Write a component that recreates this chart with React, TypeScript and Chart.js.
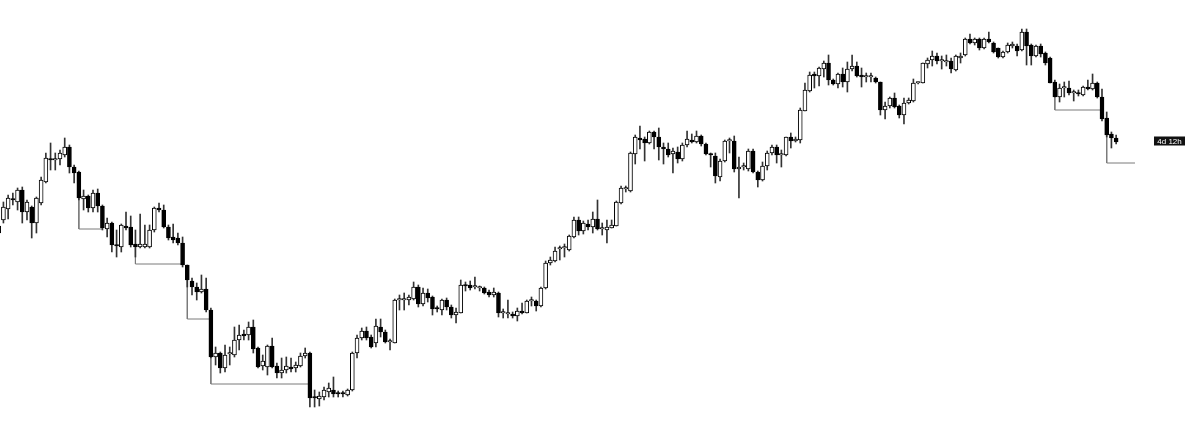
import { useEffect, useRef } from 'react';
import { Chart, registerables } from 'chart.js';

Chart.register(...registerables);

// OHLC values (one entry per candle, oldest first)
const opens = [
  267, 280, 291, 301, 298, 310, 288, 293, 277, 297, 318, 341, 340, 341, 345, 353, 333, 328, 301, 304,
  292, 307, 294, 271, 277, 255, 253, 274, 273, 256, 253, 253, 253, 270, 292, 290, 273, 263, 262, 257,
  235, 219, 213, 208, 211, 190, 143, 147, 132, 146, 145, 160, 166, 165, 173, 152, 134, 133, 154, 134,
  127, 130, 133, 132, 134, 144, 147, 103, 101, 103, 108, 110, 107, 107, 105, 110, 147, 162, 169, 163,
  157, 173, 168, 158, 157, 200, 200, 200, 201, 213, 196, 207, 203, 192, 190, 200, 193, 185, 187, 215,
  215, 213, 212, 212, 208, 205, 207, 187, 186, 186, 184, 189, 187, 199, 199, 194, 212, 237, 239, 251,
  252, 250, 263, 280, 269, 276, 273, 281, 271, 270, 272, 274, 297, 311, 309, 346, 362, 361, 357, 368,
  363, 353, 351, 346, 348, 341, 355, 360, 358, 364, 356, 346, 344, 323, 339, 359, 359, 331, 333, 331,
  349, 328, 320, 334, 347, 353, 345, 345, 363, 359, 360, 389, 409, 426, 424, 431, 437, 420, 416, 426,
  418, 431, 434, 425, 423, 423, 422, 418, 390, 394, 402, 394, 385, 397, 399, 417, 417, 436, 440, 444,
  439, 438, 439, 430, 442, 445, 461, 457, 461, 452, 461, 457, 452, 443, 448, 454, 454, 450, 468, 455,
  444, 454, 447, 442, 418, 403, 412, 412, 407, 407, 405, 413, 411, 417, 403, 382, 366, 362,
];

const highs = [
  276, 298, 305, 307, 312, 313, 300, 294, 303, 323, 347, 357, 347, 350, 362, 355, 335, 329, 310, 305,
  310, 311, 295, 282, 278, 270, 276, 288, 284, 270, 286, 275, 275, 293, 297, 295, 275, 276, 267, 263,
  235, 222, 217, 225, 222, 192, 153, 148, 155, 153, 173, 175, 170, 178, 180, 153, 145, 155, 162, 137,
  142, 143, 142, 138, 147, 152, 148, 110, 108, 113, 117, 123, 109, 109, 111, 148, 165, 172, 173, 165,
  181, 181, 170, 161, 201, 205, 207, 205, 218, 215, 212, 211, 204, 194, 201, 202, 195, 192, 220, 218,
  219, 223, 214, 213, 210, 212, 208, 191, 200, 188, 192, 197, 200, 203, 200, 213, 239, 243, 253, 254,
  256, 265, 283, 283, 279, 280, 288, 300, 277, 280, 280, 299, 314, 314, 348, 365, 374, 363, 369, 369,
  372, 357, 357, 352, 353, 357, 369, 366, 369, 365, 357, 347, 347, 341, 360, 362, 364, 343, 337, 351,
  351, 329, 338, 349, 355, 355, 350, 363, 367, 363, 392, 417, 428, 428, 433, 439, 445, 421, 427, 432,
  438, 445, 438, 432, 427, 427, 423, 418, 398, 403, 407, 395, 402, 402, 421, 418, 437, 442, 449, 447,
  444, 445, 442, 445, 447, 462, 466, 462, 462, 462, 468, 458, 452, 449, 457, 458, 456, 471, 471, 456,
  455, 456, 448, 443, 420, 416, 418, 419, 410, 410, 414, 420, 426, 418, 411, 388, 368, 365,
];

const lows = [
  263, 277, 281, 295, 290, 277, 280, 262, 267, 295, 317, 330, 330, 335, 343, 327, 317, 300, 290, 288,
  288, 288, 270, 263, 248, 243, 248, 270, 253, 243, 252, 252, 252, 268, 288, 272, 260, 257, 255, 233,
  213, 205, 200, 207, 188, 142, 135, 127, 128, 135, 143, 150, 160, 160, 147, 132, 130, 125, 132, 122,
  122, 127, 128, 128, 133, 142, 93, 93, 94, 100, 103, 103, 103, 103, 104, 109, 142, 160, 160, 152,
  153, 163, 157, 150, 157, 190, 190, 195, 200, 193, 194, 198, 185, 188, 185, 190, 182, 177, 187, 209,
  210, 211, 209, 206, 203, 203, 183, 182, 182, 182, 179, 186, 187, 194, 189, 193, 211, 235, 238, 240,
  243, 249, 262, 265, 266, 270, 267, 270, 265, 257, 272, 274, 296, 308, 308, 336, 351, 339, 356, 351,
  340, 336, 343, 327, 337, 339, 353, 357, 357, 354, 345, 333, 317, 319, 338, 347, 328, 302, 330, 329,
  327, 313, 319, 330, 345, 337, 333, 344, 352, 358, 357, 389, 408, 412, 414, 423, 415, 415, 412, 413,
  408, 429, 423, 413, 418, 418, 417, 385, 381, 392, 392, 382, 376, 396, 398, 416, 417, 432, 434, 436,
  431, 434, 427, 429, 437, 444, 456, 455, 450, 451, 457, 447, 442, 442, 447, 452, 444, 449, 435, 435,
  443, 443, 435, 417, 403, 398, 403, 405, 399, 404, 404, 410, 410, 402, 379, 363, 352, 356,
];

const closes = [
  274, 293, 302, 300, 310, 288, 298, 277, 302, 320, 342, 340, 341, 347, 353, 333, 327, 302, 304, 292,
  307, 294, 272, 277, 255, 254, 275, 272, 255, 253, 256, 256, 270, 292, 290, 273, 262, 260, 257, 235,
  220, 213, 208, 211, 190, 143, 147, 132, 145, 146, 160, 165, 164, 173, 151, 133, 139, 154, 133, 127,
  130, 134, 131, 135, 144, 147, 102, 102, 104, 110, 112, 106, 106, 106, 110, 147, 162, 169, 162, 153,
  174, 168, 158, 158, 200, 200, 200, 203, 213, 196, 207, 202, 191, 191, 200, 193, 185, 188, 215, 214,
  212, 213, 212, 207, 205, 208, 187, 187, 186, 184, 189, 187, 199, 199, 194, 212, 237, 240, 249, 251,
  252, 264, 280, 269, 277, 273, 281, 271, 271, 273, 275, 298, 312, 311, 347, 363, 360, 357, 368, 363,
  353, 351, 345, 349, 341, 355, 361, 358, 364, 356, 346, 345, 324, 339, 359, 359, 331, 333, 333, 349,
  328, 320, 334, 347, 353, 345, 345, 363, 359, 361, 390, 410, 425, 424, 432, 437, 420, 416, 426, 418,
  431, 434, 424, 423, 423, 423, 418, 390, 394, 402, 393, 385, 397, 400, 417, 417, 437, 440, 444, 439,
  439, 438, 431, 444, 444, 461, 457, 461, 452, 461, 458, 448, 443, 448, 455, 456, 449, 468, 454, 444,
  454, 446, 437, 417, 403, 412, 412, 407, 407, 406, 413, 411, 417, 403, 381, 365, 362, 358,
];

// Drop markers: [candle index, value] corners of each step
const dropSegments: number[][][] = [
  [[17, 302], [17, 271], [22, 271]],
  [[29, 253], [29, 236], [39, 236]],
  [[40, 220], [40, 181], [45, 181], [45, 116], [66, 116]],
  [[224, 403], [224, 390], [234, 390]],
  [[235, 365], [235, 337], [241, 337]],
];

const lastLabel = '4d 12h';

const lastPriceLabel = {
  id: 'lastPriceLabel',
  afterDraw(chart: Chart) {
    const { ctx } = chart;
    const y = chart.scales.y.getPixelForValue(closes[closes.length - 1]) - 1;
    ctx.save();
    ctx.fillStyle = '#111';
    ctx.fillRect(1154, y - 4.5, 31, 9);
    ctx.fillStyle = '#fff';
    ctx.font = '8px "Liberation Sans", Arial, sans-serif';
    ctx.textAlign = 'center';
    ctx.textBaseline = 'middle';
    ctx.fillText(lastLabel, 1169.5, y + 0.5);
    ctx.restore();
  },
};

export default function App() {
  const chartRef = useRef<HTMLCanvasElement>(null);
  const chartInstance = useRef<Chart | null>(null);

  useEffect(() => {
    if (!chartRef.current) return;
    const ctx = chartRef.current.getContext('2d');
    if (!ctx) return;

    if (chartInstance.current) {
      chartInstance.current.destroy();
    }

    const up = closes.map((c, i) => c >= opens[i]);

    const bodies = opens.map((o, i) => ({ x: i, y: [o, closes[i]] }));
    const wicks = opens.map((_, i) => ({ x: i, y: [lows[i], highs[i]] }));

    const lineSets = dropSegments.map((seg) => ({
      type: 'line' as const,
      data: seg.map(([x, y]) => ({ x, y })),
      borderColor: '#7a7a7a',
      borderWidth: 1,
      pointRadius: 0,
      tension: 0,
      fill: false,
      order: 3,
    }));

    chartInstance.current = new Chart(ctx, {
      type: 'bar',
      data: {
        datasets: [
          {
            data: bodies as any,
            backgroundColor: up.map((u) => (u ? '#ffffff' : '#000000')),
            borderColor: '#000000',
            borderWidth: 1,
            borderSkipped: false,
            barThickness: 4,
            minBarLength: 1.5,
            grouped: false,
            order: 1,
          },
          {
            data: wicks as any,
            backgroundColor: '#333333',
            borderWidth: 0,
            barThickness: 1,
            grouped: false,
            order: 2,
          },
          ...(lineSets as any[]),
        ],
      },
      options: {
        animation: false,
        responsive: true,
        maintainAspectRatio: false,
        layout: { padding: 0 },
        scales: {
          x: { type: 'linear', min: 0.275, max: 254.575, display: false, offset: false },
          y: { min: 52, max: 500, display: false },
        },
        plugins: {
          legend: { display: false },
          tooltip: { enabled: false },
        },
      },
      plugins: [lastPriceLabel],
    });

    return () => {
      if (chartInstance.current) {
        chartInstance.current.destroy();
        chartInstance.current = null;
      }
    };
  }, []);

  return (
    <div style={{ position: 'fixed', left: 0, top: 0, width: 1199, height: 448, background: '#fff' }}>
      <canvas ref={chartRef} />
    </div>
  );
}
